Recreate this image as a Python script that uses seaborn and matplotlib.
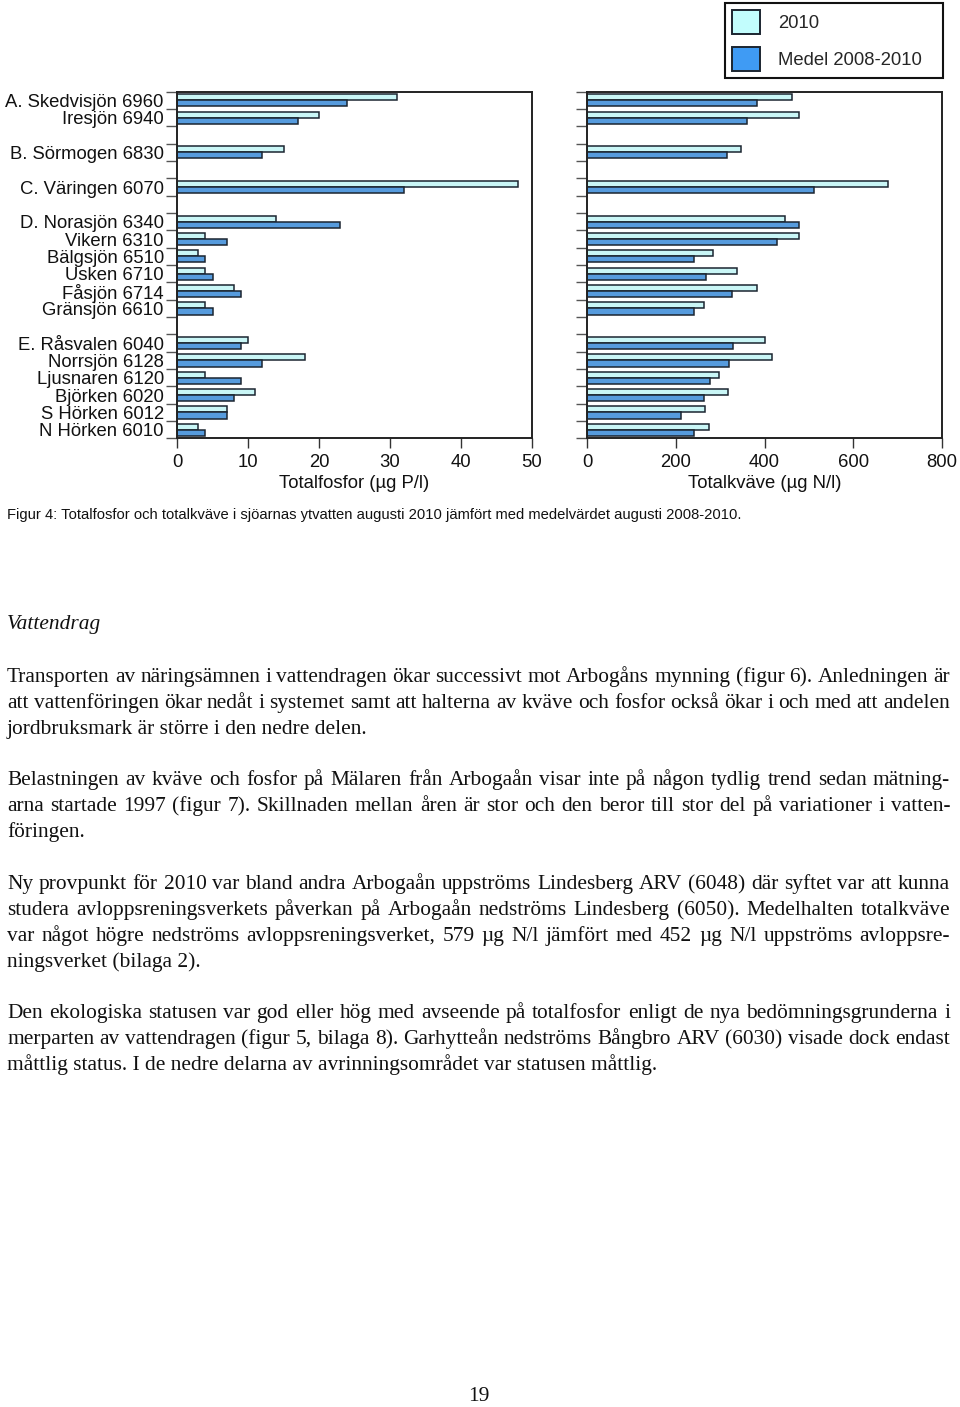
import matplotlib
matplotlib.use("Agg")
import numpy as np
import pandas as pd
import matplotlib.pyplot as plt
import seaborn as sns

lakes = ["A. Skedvisjön 6960", "Iresjön 6940", "B. Sörmogen 6830", "C. Väringen 6070",
         "D. Norasjön 6340", "Vikern 6310", "Bälgsjön 6510", "Usken 6710", "Fåsjön 6714",
         "Gränsjön 6610", "E. Råsvalen 6040", "Norrsjön 6128", "Ljusnaren 6120",
         "Björken 6020", "S Hörken 6012", "N Hörken 6010"]
gap_after = ["Iresjön 6940", "B. Sörmogen 6830", "C. Väringen 6070", "Gränsjön 6610"]

tp_2010 = [31, 20, 15, 48, 14, 4, 3, 4, 8, 4, 10, 18, 4, 11, 7, 3]
tp_medel = [24, 17, 12, 32, 23, 7, 4, 5, 9, 5, 9, 12, 9, 8, 7, 4]
tn_2010 = [463, 477, 348, 679, 446, 478, 285, 339, 383, 264, 400, 417, 297, 317, 266, 275]
tn_medel = [384, 361, 315, 512, 477, 429, 242, 268, 326, 242, 328, 319, 278, 264, 212, 242]

series = ["2010", "Medel 2008-2010"]
colors = ["#C2FDFD", "#3F9BF4"]
edge = "#1B2530"

caption = ("Figur 4: Totalfosfor och totalkväve i sjöarnas ytvatten augusti 2010 "
           "jämfört med medelvärdet augusti 2008-2010.")

paragraphs = [
    ["Transporten av näringsämnen i vattendragen ökar successivt mot Arbogåns mynning (figur 6). Anledningen är",
     "att vattenföringen ökar nedåt i systemet samt att halterna av kväve och fosfor också ökar i och med att andelen",
     "jordbruksmark är större i den nedre delen."],
    ["Belastningen av kväve och fosfor på Mälaren från Arbogaån visar inte på någon tydlig trend sedan mätning-",
     "arna startade 1997 (figur 7). Skillnaden mellan åren är stor och den beror till stor del på variationer i vatten-",
     "föringen."],
    ["Ny provpunkt för 2010 var bland andra Arbogaån uppströms Lindesberg ARV (6048) där syftet var att kunna",
     "studera avloppsreningsverkets påverkan på Arbogaån nedströms Lindesberg (6050). Medelhalten totalkväve",
     "var något högre nedströms avloppsreningsverket, 579 µg N/l jämfört med 452 µg N/l uppströms avloppsre-",
     "ningsverket (bilaga 2)."],
    ["Den ekologiska statusen var god eller hög med avseende på totalfosfor enligt de nya bedömningsgrunderna i",
     "merparten av vattendragen (figur 5, bilaga 8). Garhytteån nedströms Bångbro ARV (6030) visade dock endast",
     "måttlig status. I de nedre delarna av avrinningsområdet var statusen måttlig."],
]
para_tops = [676, 779, 883, 1012]

# slot order with empty rows between the groups
order = []
blank = 0
for lake in lakes:
    order.append(lake)
    if lake in gap_after:
        blank += 1
        order.append(" " * blank)

df = pd.DataFrame({
    "sjo": lakes * 2,
    "serie": [series[0]] * len(lakes) + [series[1]] * len(lakes),
    "tp": tp_2010 + tp_medel,
    "tn": tn_2010 + tn_medel,
})

sns.set_style("ticks")
plt.rcParams["font.family"] = ["Liberation Sans", "DejaVu Sans"]

W, H = 960, 1407
fig = plt.figure(figsize=(W / 100, H / 100), dpi=100)


def fx(px):
    return px / W


def fy(py):
    return 1 - py / H


ax_p = fig.add_axes([fx(177), fy(438.5), 355 / W, 346.8 / H])
ax_n = fig.add_axes([fx(587), fy(438.5), 355 / W, 346.8 / H])

for ax, col, xmax, step, xlabel in [(ax_p, "tp", 50, 10, "Totalfosfor (µg P/l)"),
                                     (ax_n, "tn", 800, 200, "Totalkväve (µg N/l)")]:
    sns.barplot(data=df, y="sjo", x=col, hue="serie", order=order, hue_order=series,
                palette=colors, width=0.7, gap=0, edgecolor=edge, linewidth=1.1,
                errorbar=None, legend=False, ax=ax)
    ax.set_xlim(0, xmax)
    ax.set_xticks(np.arange(0, xmax + 1, step))
    ax.set_ylim(len(order) - 0.5, -0.5)
    ax.set_yticks(np.arange(len(order)))
    ax.set_yticks(np.arange(-0.5, len(order), 1), minor=True)
    ax.tick_params(axis="y", which="major", length=0, pad=9.5, labelsize=13.3, colors="#111")
    ax.tick_params(axis="y", which="minor", length=8, width=1, color="#555")
    ax.tick_params(axis="x", length=7, width=1, color="#333", pad=4, labelsize=13.3, labelcolor="#111")
    ax.set_ylabel("")
    ax.set_xlabel(xlabel, fontsize=13.3, color="#111", labelpad=3)
    for sp in ax.spines.values():
        sp.set_visible(True)
        sp.set_linewidth(1.4)
        sp.set_color("#222")

ax_p.set_yticklabels([s if s.strip() else "" for s in order])
ax_n.set_yticklabels([])

handles = [plt.Rectangle((0, 0), 1, 1, facecolor=c, edgecolor=edge, linewidth=1.4) for c in colors]
leg = fig.legend(handles, series, loc="upper left",
                 bbox_to_anchor=(fx(725), fy(80), 218 / W, 77.3 / H), mode="expand",
                 borderaxespad=0, fontsize=13.3, handlelength=1.5, handleheight=1.6,
                 labelspacing=0.72, borderpad=0.4, handletextpad=0.95, fancybox=False,
                 framealpha=1)
leg.get_frame().set_edgecolor("#111")
leg.get_frame().set_linewidth(1.5)

renderer = fig.canvas.get_renderer()

# caption, fitted to roughly its width in the reference
cap = fig.text(fx(7), fy(519), caption, ha="left", va="baseline", fontsize=11,
               family=["Liberation Sans Narrow", "Liberation Sans"], color="#111")
cap_w = cap.get_window_extent(renderer).width
cap.set_fontsize(11 * 730 / cap_w)

serif = ["Liberation Serif", "DejaVu Serif"]
fig.text(fx(7), fy(629), "Vattendrag", ha="left", va="baseline", fontsize=15.4,
         style="italic", family=serif, color="#111")


def body_line(y, text, justify):
    if not justify:
        fig.text(fx(7), fy(y), text, ha="left", va="baseline", fontsize=15.4,
                 family=serif, color="#111")
        return
    words = text.split(" ")
    objs = [fig.text(0, fy(y), w, ha="left", va="baseline", fontsize=15.4,
                     family=serif, color="#111") for w in words]
    widths = [o.get_window_extent(renderer).width for o in objs]
    space = (950 - 7 - sum(widths)) / (len(words) - 1)
    x = 7
    for o, w in zip(objs, widths):
        o.set_x(fx(x))
        x += w + space


for top, lines in zip(para_tops, paragraphs):
    for i, line in enumerate(lines):
        body_line(top + 6 + i * 26, line, justify=(i < len(lines) - 1))

fig.text(fx(479), fy(1401), "19", ha="center", va="baseline", fontsize=15.4,
         family=serif, color="#111")

fig.savefig("out.png", dpi=100, facecolor="white")
